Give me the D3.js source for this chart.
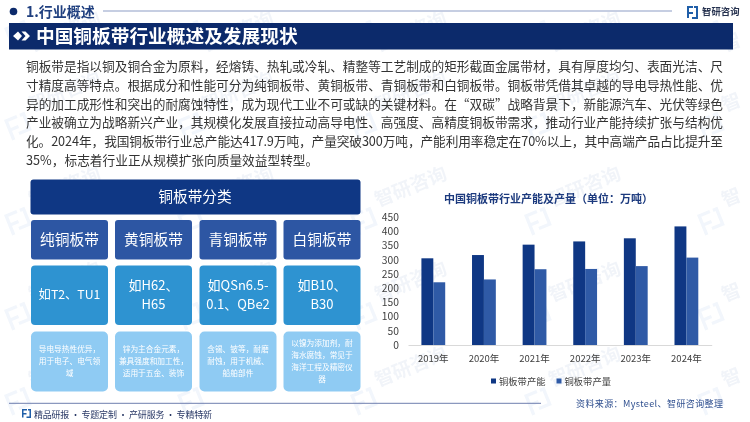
<!DOCTYPE html>
<html><head><meta charset="utf-8">
<script src="https://cdn.jsdelivr.net/npm/d3@7/dist/d3.min.js"></script>
<style>html,body{margin:0;padding:0;background:#fff}svg{display:block}text{font-family:"Noto Sans CJK SC","Noto Sans",sans-serif}</style>
</head><body><svg id="c" width="750" height="422"></svg>
<script>
const years=["2019年","2020年","2021年","2022年","2023年","2024年"];
const capacity=[305.5,317,353.6,365,376,417.9];
const output=[221,231,267,268,278,308];
const seriesNames=["铜板带产能","铜板带产量"];
const yTicks=[0,50,100,150,200,250,300,350,400,450];
const paragraph=[
"铜板带是指以铜及铜合金为原料，经熔铸、热轧或冷轧、精整等工艺制成的矩形截面金属带材，具有厚度均匀、表面光洁、尺",
"寸精度高等特点。根据成分和性能可分为纯铜板带、黄铜板带、青铜板带和白铜板带。铜板带凭借其卓越的导电导热性能、优",
"异的加工成形性和突出的耐腐蚀特性，成为现代工业不可或缺的关键材料。在“双碳”战略背景下，新能源汽车、光伏等绿色",
"产业被确立为战略新兴产业，其规模化发展直接拉动高导电性、高强度、高精度铜板带需求，推动行业产能持续扩张与结构优",
"化。2024年，我国铜板带行业总产能达417.9万吨，产量突破300万吨，产能利用率稳定在70%以上，其中高端产品占比提升至",
"35%，标志着行业正从规模扩张向质量效益型转型。"];
const classes=["纯铜板带","黄铜板带","青铜板带","白铜板带"];
const examples=[["如T2、TU1"],["如H62、","H65"],["如QSn6.5-","0.1、QBe2"],["如B10、","B30"]];
const notes=[["导电导热性优异，","用于电子、电气领","域"],["锌为主合金元素，","兼具强度和加工性，","适用于五金、装饰"],["含锡、铍等，耐磨","耐蚀，用于机械、","船舶部件"],["以镍为添加剂，耐","海水腐蚀，常见于","海洋工程及精密仪","器"]];

const navy="#0c2a6b", bar1="#0f3784", bar2="#2f5aa6";
const svg=d3.select("#c");
svg.append("rect").attr("width",750).attr("height",422).attr("fill","#fff");

// watermark
const wm=svg.append("g").attr("opacity",.06);
const wmCols=[18,191,364,538,711], wmRows=[38,130,225,320,405];
wmRows.forEach(wy=>wmCols.forEach((wx,ci)=>{
  wm.append("path").attr("transform",`translate(${wx-14},${wy-10}) rotate(-22) scale(1.1)`)
    .attr("d","M0 0h12v3h-9v6h7v3h-7v8h-3zM15 0h5v18h-12v-3h9v-12h-2z").attr("fill","#2f6fc0");
  wm.append("text").attr("transform",`translate(${wx+14},${Math.max(wy-18,52)}) rotate(-22)`)
    .attr("font-size",19).attr("font-weight",700).attr("fill","#1d4f9c").text(ci==4?"智":"智研咨询");
}));

// header
svg.append("circle").attr("cx",13.5).attr("cy",11.5).attr("r",3.8).attr("fill",navy);
svg.append("text").attr("x",26).attr("y",17).attr("font-size",14).attr("font-weight",700).attr("fill","#1f3f7f").text("1.行业概述");
svg.append("line").attr("x1",103).attr("x2",672).attr("y1",11).attr("y2",11).attr("stroke","#8e9ec6").attr("stroke-width",1.2);
const lg=svg.append("g").attr("transform","translate(687,6)");
lg.append("path").attr("d","M0 0h6v2h-4v4h4v2h-4v4h-2zM7 0h4v2h-4zM9 2h2v11h-6v-2h4z").attr("fill","#1f5ea8");
svg.append("text").attr("x",702).attr("y",14.5).attr("font-size",9.4).attr("font-weight",700).attr("fill","#26324f").text("智研咨询");

svg.append("rect").attr("x",9).attr("y",23).attr("width",724).attr("height",26.5).attr("fill",navy);
svg.append("path").attr("d","M13 36l5-4.5 4 4.5-4 4.5zM21.5 31.5l4 0 4.5 4.5-4.5 4.5-4 0 4-4.500z").attr("fill","#fff");
svg.append("text").attr("x",36).attr("y",42.500).attr("font-size",18.700).attr("font-weight",700).attr("fill","#fff").text("中国铜板带行业概述及发展现状");

// paragraph
const lineY=[71,90,108.500,127,146,165];
svg.append("g").selectAll("text").data(paragraph).join("text")
  .attr("x",26).attr("y",(d,i)=>lineY[i]).attr("font-size",12.700).attr("fill","#333")
  .attr("textLength",(d,i)=>i<5?697:null).attr("lengthAdjust","spacing").text(d=>d);

// classification panel
function box(x,y,w,h,r,fill){svg.append("rect").attr("x",x).attr("y",y).attr("width",w).attr("height",h).attr("rx",r).attr("fill",fill);}
function label(lines,cx,cy,size,lh,fill){
  const top=cy-(lines.length-1)*lh/2;
  lines.forEach((t,i)=>svg.append("text").attr("x",cx).attr("y",top+i*lh).attr("dy","0.36em").attr("text-anchor","middle").attr("font-size",size).attr("fill",fill).text(t));
}
box(30.500,179.500,330,35,3,"#0f3784");
label(["铜板带分类"],195,197,14.700,0,"#fff");
const colX=[31,115,199.500,283.500], colW=77;
classes.forEach((c,i)=>{
  const cx=colX[i]+colW/2;
  box(colX[i],220,colW,39.500,3,"#2d56a3");
  label([c],cx,240,14.700,0,"#fff");
  box(colX[i],265.500,colW,59.500,4,"#2e93d1");
  label(examples[i],cx,295,i==0?12.300:13,19.300,"#fff");
  box(colX[i],331.500,colW,60,5,"#8fcbf3");
  label(notes[i],cx,361,7.700,12,"#fff");
});

// chart
const x0=d3.scaleBand().domain(years).range([408,711.700]);
const x1=d3.scaleBand().domain(seriesNames).range([0,23.800]);
const y=d3.scaleLinear().domain([0,450]).range([345,217.300]);
svg.append("text").attr("x",444).attr("y",202.500).attr("font-size",11).attr("font-weight",700).attr("fill","#1c3a7e").text("中国铜板带行业产能及产量（单位：万吨）");
const bars=svg.append("g");
[[capacity,bar1],[output,bar2]].forEach(([vals,col],k)=>{
  bars.append("g").selectAll("rect").data(vals).join("rect")
    .attr("x",(d,i)=>x0(years[i])+(x0.bandwidth()-23.800)/2+x1(seriesNames[k]))
    .attr("y",d=>y(d)).attr("width",x1.bandwidth()).attr("height",d=>y(0)-y(d)).attr("fill",col);
});
const ax=svg.append("g").attr("transform","translate(0,345)").call(d3.axisBottom(x0).tickSize(0).tickPadding(10));
ax.select(".domain").attr("stroke","#d9d9d9");
ax.selectAll("text").attr("font-size",9.500).attr("fill","#404040").style("font-family",'"Noto Sans CJK SC"');
const ay=svg.append("g").attr("transform","translate(408,0)").call(d3.axisLeft(y).tickValues(yTicks).tickSize(0).tickPadding(9));
ay.select(".domain").remove();
ay.selectAll("text").attr("font-size",10.300).attr("fill","#404040").style("font-family",'"Noto Sans CJK SC"');

// legend
[[491,bar1],[556.500,bar2]].forEach(([lx,col],i)=>{
  svg.append("rect").attr("x",lx).attr("y",378.500).attr("width",5).attr("height",5).attr("fill",col);
  svg.append("text").attr("x",lx+8).attr("y",385.300).attr("font-size",9.300).attr("fill","#404040").text(seriesNames[i]);
});

// footer
svg.append("line").attr("x1",9).attr("x2",541).attr("y1",403.300).attr("y2",403.300).attr("stroke","#6f7fae").attr("stroke-width",1);
svg.append("path").attr("d","M22 409h5v1.500h-3.500v2.500h3v1.500h-3v3h-1.500zM28 409h3v9h-4.500v-1.500h3v-6h-1.500z").attr("fill","#1f5ea8");
svg.append("text").attr("x",34).attr("y",418).attr("font-size",9).attr("fill","#2b3a67").attr("textLength",178).attr("lengthAdjust","spacing").text("精品研报 · 专题定制 · 产研服务 · 专精特新");
svg.append("text").attr("x",576).attr("y",406.500).attr("font-size",9).attr("fill","#2f4f8f").attr("textLength",147).attr("lengthAdjust","spacing").text("资料来源：Mysteel、智研咨询整理");
</script></body></html>
